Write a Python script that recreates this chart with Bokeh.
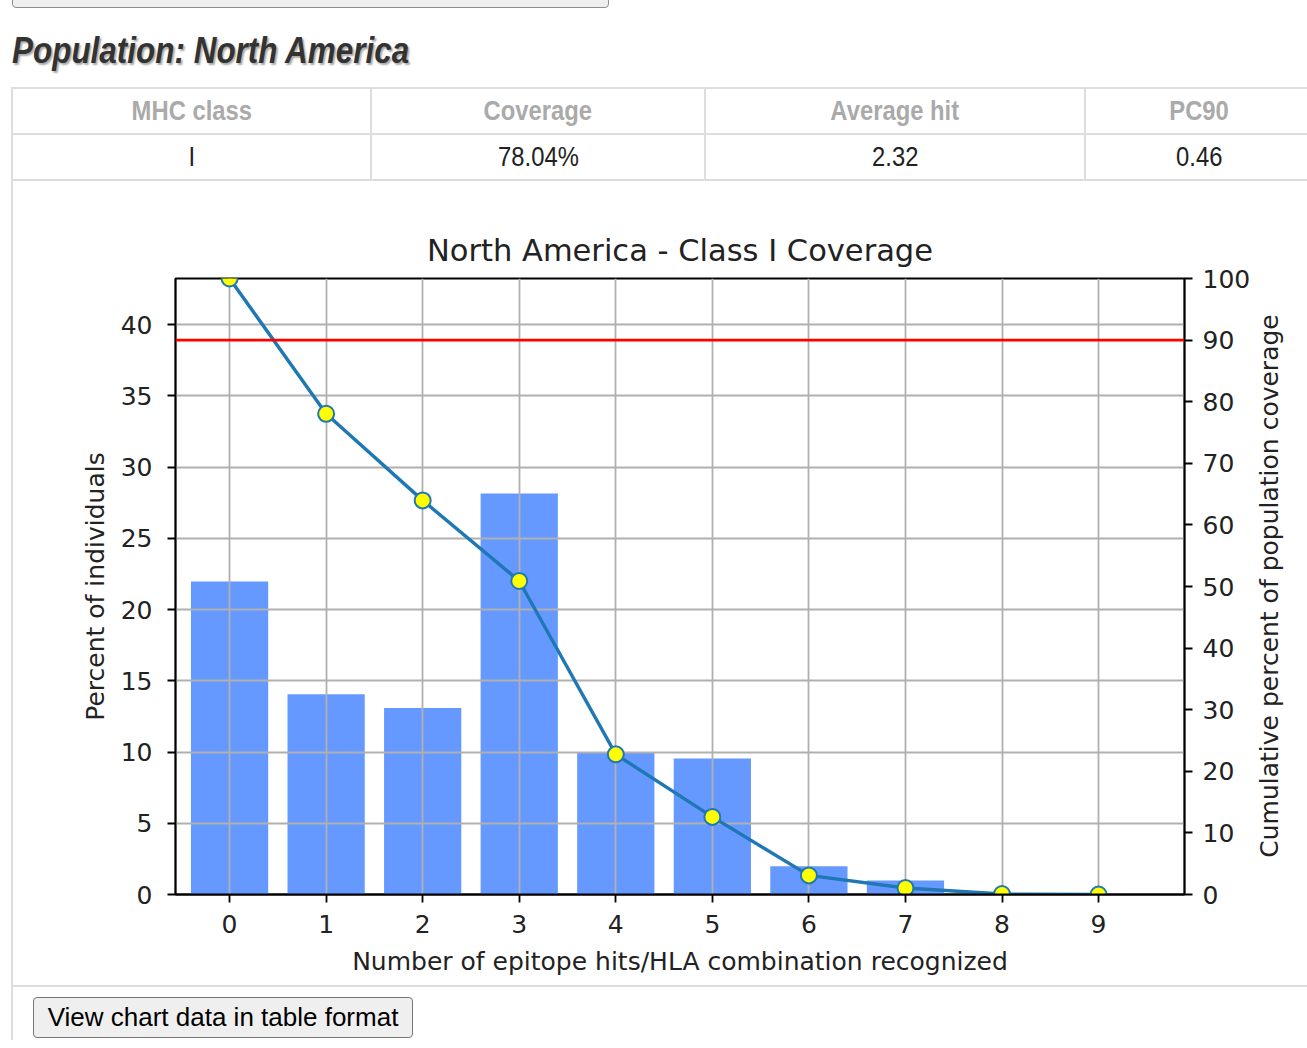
from bokeh.plotting import figure
from bokeh.models import (Range1d, LinearAxis, FixedTicker, Span, Div)
from bokeh.layouts import column, row
from bokeh.embed import file_html
from bokeh.resources import INLINE

# ---------------- data ----------------
population = "North America"
table_headers = ["MHC class", "Coverage", "Average hit", "PC90"]
table_values = ["I", "78.04%", "2.32", "0.46"]

hits = [0, 1, 2, 3, 4, 5, 6, 7, 8, 9]
pct_individuals = [21.96, 14.06, 13.08, 28.15, 10.0, 9.55, 1.98, 0.98, 0.06, 0.0]
cumulative_pct = [100.0, 78.04, 63.98, 50.9, 22.75, 12.6, 3.1, 1.05, 0.08, 0.0]
left_ticks = [0, 5, 10, 15, 20, 25, 30, 35, 40]
right_ticks = [0, 10, 20, 30, 40, 50, 60, 70, 80, 90, 100]
threshold_pct = 90

chart_title = "North America - Class I Coverage"
x_label = "Number of epitope hits/HLA combination recognized"
y_left_label = "Percent of individuals"
y_right_label = "Cumulative percent of population coverage"
button_text = "View chart data in table format"

PAGE_W = 1299
ARIAL = "'Liberation Sans',Arial,sans-serif"
NARROW_SCALE = 0.85

# ---------------- top html: cut-off button + heading ----------------
header = Div(width=PAGE_W, height=87, margin=0, text=(
    '<div style="position:relative;width:%dpx;height:87px;overflow:hidden;">'
    '<div style="position:absolute;left:4px;top:-33px;width:597px;height:41px;'
    'border:1px solid #8f8f8f;border-radius:4px;background:#efefef;"></div>'
    '<div style="position:absolute;left:4px;top:31px;font-family:%s;font-weight:bold;font-style:italic;'
    'font-size:37px;line-height:40px;color:#333;text-shadow:2px 2px 2px #aaa;white-space:nowrap;'
    'transform:scaleX(%s);transform-origin:0 0;">Population: %s</div></div>'
    % (PAGE_W, ARIAL, NARROW_SCALE, population)))

# ---------------- summary table ----------------
col_edges = [3, 362, 696, 1076, 1304]   # vertical border lines (relative)
parts = ['<div style="position:relative;width:%dpx;height:94px;overflow:hidden;">' % PAGE_W]
for y in (0, 46, 92):
    parts.append('<div style="position:absolute;left:3px;top:%dpx;width:1400px;height:2px;background:#ddd;"></div>' % y)
for x in col_edges:
    parts.append('<div style="position:absolute;left:%dpx;top:0;width:2px;height:94px;background:#ddd;"></div>' % x)
for i, (h, v) in enumerate(zip(table_headers, table_values)):
    l = col_edges[i] + 2
    w = col_edges[i + 1] - l
    parts.append('<div style="position:absolute;left:%dpx;top:2px;width:%dpx;height:44px;display:flex;'
                 'align-items:center;justify-content:center;font-family:%s;font-size:28px;font-weight:bold;'
                 'color:#aaa;white-space:nowrap;"><span style="display:inline-block;transform:scaleX(%s);">%s</span></div>'
                 % (l, w, ARIAL, NARROW_SCALE, h))
    parts.append('<div style="position:absolute;left:%dpx;top:48px;width:%dpx;height:44px;display:flex;'
                 'align-items:center;justify-content:center;font-family:%s;font-size:28px;'
                 'color:#222;white-space:nowrap;"><span style="display:inline-block;transform:scaleX(%s);">%s</span></div>'
                 % (l, w, ARIAL, NARROW_SCALE, v))
parts.append('</div>')
table = Div(width=PAGE_W, height=94, margin=0, text="".join(parts))

# ---------------- chart ----------------
FIG_W, FIG_H = 1243, 804
X_START, X_END = -0.56, 9.89
p = figure(width=FIG_W, height=FIG_H, x_range=Range1d(X_START, X_END), y_range=Range1d(0, 43.23),
           output_backend="svg", toolbar_location=None, margin=0,
           min_border_left=162, min_border_right=72, min_border_top=97, min_border_bottom=91,
           background_fill_color="white", border_fill_color="white")
p.extra_y_ranges = {"cum": Range1d(0, 100)}

p.title.text = chart_title
p.title.align = "center"
p.title.text_font = "DejaVu Sans"
p.title.text_font_size = "30.5px"
p.title.text_font_style = "normal"
p.title.text_color = "#222"
p.title.standoff = 21

p.vbar(x=hits, top=pct_individuals, width=0.8, fill_color="#6699ff", line_color=None, level="image")
p.line(x=hits, y=cumulative_pct, y_range_name="cum", line_color="#1f77b4", line_width=3.4)
p.scatter(x=hits, y=cumulative_pct, y_range_name="cum", size=16, fill_color="yellow",
          line_color="#1f77b4", line_width=2)
p.add_layout(Span(location=threshold_pct, dimension="width", y_range_name="cum",
                  line_color="red", line_width=2.6))

p.xaxis.ticker = FixedTicker(ticks=hits)
p.yaxis.ticker = FixedTicker(ticks=left_ticks)
right_axis = LinearAxis(y_range_name="cum", ticker=FixedTicker(ticks=right_ticks))
p.add_layout(right_axis, "right")

p.xaxis.axis_label = x_label
p.yaxis[0].axis_label = y_left_label

for ax in [p.xaxis[0], p.yaxis[0], right_axis]:
    ax.axis_line_color = "black"
    ax.axis_line_width = 1.8
    ax.major_tick_line_color = "black"
    ax.major_tick_line_width = 1.8
    ax.major_tick_out = 8
    ax.major_tick_in = 0
    ax.minor_tick_line_color = None
    ax.major_label_text_font = "DejaVu Sans"
    ax.major_label_text_font_size = "25px"
    ax.major_label_text_color = "#222"
    ax.axis_label_text_font = "DejaVu Sans"
    ax.axis_label_text_font_size = "25px"
    ax.axis_label_text_font_style = "normal"
    ax.axis_label_text_color = "#222"
p.xaxis.major_label_standoff = 12
p.xaxis.axis_label_standoff = 11
p.yaxis[0].major_label_standoff = 15
p.yaxis[0].axis_label_standoff = 8
right_axis.major_label_standoff = 10

p.xgrid.grid_line_color = "#b0b0b0"
p.xgrid.grid_line_width = 1.8
p.ygrid.grid_line_color = "#b0b0b0"
p.ygrid.grid_line_width = 1.8
p.outline_line_color = "black"
p.outline_line_width = 1.8

left_strip = Div(width=5, height=FIG_H, margin=0, text=(
    '<div style="position:relative;width:5px;height:%dpx;">'
    '<div style="position:absolute;left:3px;top:0;width:2px;height:%dpx;background:#ddd;"></div></div>'
    % (FIG_H, FIG_H)))

# right-hand axis title (reads bottom-to-top, as in the reference)
RIGHT_W = PAGE_W - 5 - FIG_W
right_title = Div(width=RIGHT_W, height=FIG_H, margin=0, text=(
    '<div style="position:relative;width:%dpx;height:%dpx;">'
    '<div style="position:absolute;left:14px;top:405px;transform:translate(-50%%,-50%%) rotate(-90deg);'
    'font-family:\'DejaVu Sans\';font-size:25px;line-height:30px;color:#222;white-space:nowrap;">%s</div></div>'
    % (RIGHT_W, FIG_H, y_right_label)))

bottom = Div(width=PAGE_W, height=55, margin=0, text=(
    '<div style="position:relative;width:%dpx;height:55px;overflow:hidden;">'
    '<div style="position:absolute;left:3px;top:0;width:2px;height:55px;background:#ddd;"></div>'
    '<div style="position:absolute;left:3px;top:0;width:1400px;height:2px;background:#ddd;"></div>'
    '<div style="position:absolute;left:25px;top:12px;width:380px;height:41px;border:1px solid #767676;'
    'border-radius:4px;background:#efefef;display:flex;align-items:center;justify-content:center;'
    'font-family:%s;font-size:26px;color:#000;white-space:nowrap;">%s</div></div>'
    % (PAGE_W, ARIAL, button_text)))

layout = column(header, table, row(left_strip, p, right_title, spacing=0, margin=0), bottom,
                spacing=0, margin=(0, 0, 0, 8))

open("out.html", "w").write(file_html(layout, INLINE))
